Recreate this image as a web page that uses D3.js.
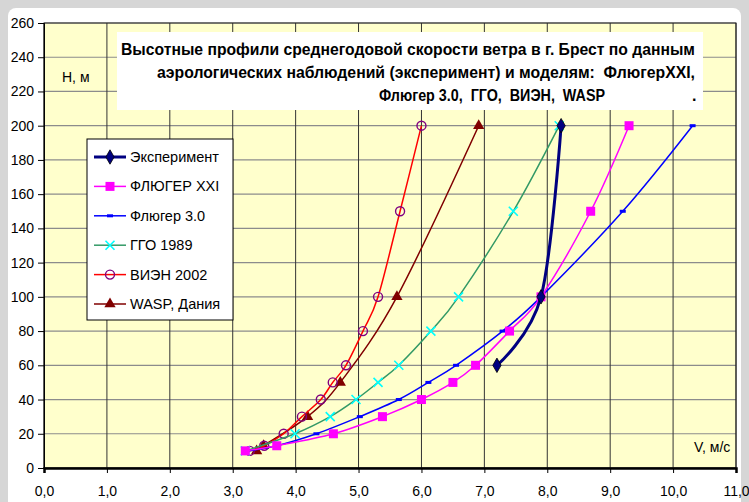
<!DOCTYPE html>
<html>
<head>
<meta charset="utf-8">
<script src="https://cdn.jsdelivr.net/npm/d3@7"></script>
<style>
  body { margin: 0; background: #d6d6d6; }
  svg { display: block; font-family: "Liberation Sans", Arial, sans-serif; }
</style>
</head>
<body>
<svg id="chart" width="749" height="502"></svg>
<script>
// высоты (м) и скорости (м/с)
var expH  = [60, 100, 200];
var expV  = [7.2, 7.9, 8.22];
var fxxiH = [10, 13, 20, 30, 40, 50, 60, 80, 100, 150, 200];
var fxxiV = [3.2, 3.7, 4.6, 5.38, 6.0, 6.5, 6.86, 7.4, 7.9, 8.69, 9.3];
var f30H  = [10, 13, 20, 30, 40, 50, 60, 80, 100, 150, 200];
var f30V  = [3.22, 3.7, 4.33, 5.02, 5.64, 6.11, 6.55, 7.29, 7.9, 9.2, 10.31];
var ggoH  = [10, 20, 30, 40, 50, 60, 80, 100, 150, 200];
var ggoV  = [3.2, 3.99, 4.55, 4.96, 5.31, 5.64, 6.15, 6.59, 7.46, 8.19];
var vienH = [10, 13, 20, 30, 40, 50, 60, 80, 100, 150, 200];
var vienV = [3.27, 3.5, 3.81, 4.1, 4.4, 4.59, 4.8, 5.07, 5.31, 5.66, 6.0];
var waspH = [10, 13, 30, 50, 100, 200];
var waspV = [3.38, 3.49, 4.19, 4.71, 5.61, 6.91];

var seriesNames = ["Эксперимент", "ФЛЮГЕР XXI", "Флюгер 3.0", "ГГО 1989", "ВИЭН 2002", "WASP, Дания"];
var xTicks = [0, 1, 2, 3, 4, 5, 6, 7, 8, 9, 10, 11];
var yTicks = [0, 20, 40, 60, 80, 100, 120, 140, 160, 180, 200, 220, 240, 260];
var titleLines = [
    "Высотные профили среднегодовой скорости ветра в г. Брест по данным",
    "аэрологических наблюдений (эксперимент) и моделям:  ФлюгерXXI,",
    "Флюгер 3.0,  ГГО,  ВИЭН,  WASP"
];

var series = [
    {name: seriesNames[0], h: expH,  v: expV,  line: "#000080", width: 3,   marker: "diamond",  fill: "#000080"},
    {name: seriesNames[1], h: fxxiH, v: fxxiV, line: "#ff00ff", width: 1.5, marker: "square",   fill: "#ff00ff"},
    {name: seriesNames[2], h: f30H,  v: f30V,  line: "#0000ff", width: 1.5, marker: "dash",     fill: "#0000ff"},
    {name: seriesNames[3], h: ggoH,  v: ggoV,  line: "#339966", width: 1.5, marker: "x",        fill: "#00ffff"},
    {name: seriesNames[4], h: vienH, v: vienV, line: "#ff0000", width: 1.5, marker: "circle",   fill: "#800080"},
    {name: seriesNames[5], h: waspH, v: waspV, line: "#800000", width: 1.5, marker: "triangle", fill: "#800000"}
];

var svg = d3.select("#chart");

// белая подложка диаграммы
svg.append("rect")
    .attr("x", 8).attr("y", 8)
    .attr("width", 733).attr("height", 510)
    .attr("rx", 8)
    .attr("fill", "#ffffff");

var plotL = 44, plotR = 736, plotT = 23, plotB = 468;
var xScale = d3.scaleLinear().domain([0, 11]).range([plotL, plotR]);
var yScale = d3.scaleLinear().domain([0, 260]).range([plotB, plotT]);

svg.append("rect")
    .attr("x", plotL).attr("y", plotT)
    .attr("width", plotR - plotL).attr("height", plotB - plotT)
    .attr("fill", "#ffffcc");

// сетка
var grid = svg.append("g");
grid.selectAll(".hg").data(yTicks).enter().append("line")
    .attr("x1", plotL).attr("x2", plotR)
    .attr("y1", function(d) { return yScale(d); })
    .attr("y2", function(d) { return yScale(d); })
    .attr("stroke", "#8c8c8c").attr("stroke-width", 1.2);
grid.selectAll(".vg").data(xTicks).enter().append("line")
    .attr("x1", function(d) { return xScale(d); })
    .attr("x2", function(d) { return xScale(d); })
    .attr("y1", plotT).attr("y2", plotB)
    .attr("stroke", "#333333").attr("stroke-width", 1);

svg.append("rect")
    .attr("x", plotL).attr("y", plotT)
    .attr("width", plotR - plotL).attr("height", plotB - plotT)
    .attr("fill", "none").attr("stroke", "#222").attr("stroke-width", 1);

// оси
var yAxis = d3.axisLeft(yScale).tickValues(yTicks).tickSize(6).tickPadding(4)
    .tickFormat(d3.format("d"));
var gy = svg.append("g").attr("transform", "translate(" + plotL + ",0)").call(yAxis);
var xAxis = d3.axisBottom(xScale).tickValues(xTicks).tickSize(5).tickPadding(13)
    .tickFormat(function(d) { return d.toFixed(1).replace(".", ","); });
var gx = svg.append("g").attr("transform", "translate(0," + plotB + ")").call(xAxis);
[gy, gx].forEach(function(g) {
    g.select(".domain").attr("stroke", "#000").attr("stroke-width", g === gx ? 2.5 : 1);
    g.selectAll(".tick line").attr("stroke", "#000");
    g.selectAll(".tick text").attr("fill", "#000").style("font-size", "14px")
        .style("font-family", "'Liberation Sans', Arial, sans-serif");
});

// маркеры
function drawMarker(g, s, cx, cy, scale) {
    var k = scale || 1;
    if (s.marker == "diamond") {
        g.append("path")
            .attr("d", d3.symbol(d3.symbolDiamond, 60 * k)())
            .attr("transform", "translate(" + cx + "," + cy + ")")
            .attr("fill", s.fill).attr("stroke", "#000").attr("stroke-width", 0.8);
    } else if (s.marker == "square") {
        g.append("rect")
            .attr("x", cx - 4.5 * k).attr("y", cy - 4.5 * k)
            .attr("width", 9 * k).attr("height", 9 * k)
            .attr("fill", s.fill);
    } else if (s.marker == "dash") {
        g.append("rect")
            .attr("x", cx - 3).attr("y", cy - 1.5)
            .attr("width", 6).attr("height", 3)
            .attr("fill", s.fill);
    } else if (s.marker == "x") {
        var r = 4.5 * k;
        g.append("path")
            .attr("d", "M" + (cx - r) + "," + (cy - r) + "L" + (cx + r) + "," + (cy + r) +
                       "M" + (cx - r) + "," + (cy + r) + "L" + (cx + r) + "," + (cy - r))
            .attr("stroke", s.fill).attr("stroke-width", 1.6).attr("fill", "none");
    } else if (s.marker == "circle") {
        g.append("circle")
            .attr("cx", cx).attr("cy", cy).attr("r", 4.5 * k)
            .attr("fill", "none").attr("stroke", s.fill).attr("stroke-width", 1.4);
    } else if (s.marker == "triangle") {
        g.append("path")
            .attr("d", d3.symbol(d3.symbolTriangle, 55 * k)())
            .attr("transform", "translate(" + cx + "," + cy + ")")
            .attr("fill", s.fill);
    }
}

var lineGen = d3.line()
    .x(function(d) { return xScale(d[0]); })
    .y(function(d) { return yScale(d[1]); })
    .curve(d3.curveCardinal.tension(0));

var plot = svg.append("g");
// рисуем в обратном порядке, чтобы эксперимент был сверху
series.slice().reverse().forEach(function(s) {
    var pts = s.v.map(function(v, i) { return [v, s.h[i]]; });
    plot.append("path")
        .attr("d", lineGen(pts))
        .attr("fill", "none")
        .attr("stroke", s.line)
        .attr("stroke-width", s.width);
    var mg = plot.append("g");
    pts.forEach(function(p) {
        drawMarker(mg, s, xScale(p[0]), yScale(p[1]));
    });
});

// заголовок
svg.append("rect")
    .attr("x", 117).attr("y", 32)
    .attr("width", 586).attr("height", 78)
    .attr("fill", "#ffffff");
var titleX = 695;
var titleLen = [574, 538, 226];
var titleY = [55, 78, 101];
titleLines.forEach(function(t, i) {
    var x = i == 2 ? 605 : titleX;
    svg.append("text")
        .attr("x", x).attr("y", titleY[i])
        .attr("text-anchor", "end")
        .attr("textLength", titleLen[i])
        .attr("lengthAdjust", "spacingAndGlyphs")
        .style("font-size", "16px").style("font-weight", "bold")
        .style("white-space", "pre")
        .text(t);
});
svg.append("text")
    .attr("x", 692).attr("y", 101)
    .style("font-size", "16px").style("font-weight", "bold")
    .text(".");

svg.append("text").attr("x", 62).attr("y", 82)
    .style("font-size", "14px").text("Н, м");
svg.append("text").attr("x", 694).attr("y", 452)
    .style("font-size", "14px").text("V, м/с");

// легенда
var lg = svg.append("g");
lg.append("rect")
    .attr("x", 87).attr("y", 139)
    .attr("width", 146).attr("height", 181)
    .attr("fill", "#ffffff").attr("stroke", "#000").attr("stroke-width", 1);
series.forEach(function(s, i) {
    var cy = 157 + i * 29.4;
    lg.append("line")
        .attr("x1", 94).attr("x2", 126)
        .attr("y1", cy).attr("y2", cy)
        .attr("stroke", s.line).attr("stroke-width", s.width);
    drawMarker(lg, s, 110, cy);
    lg.append("text")
        .attr("x", 130).attr("y", cy + 5)
        .style("font-size", "14.5px")
        .text(s.name);
});
</script>
</body>
</html>
